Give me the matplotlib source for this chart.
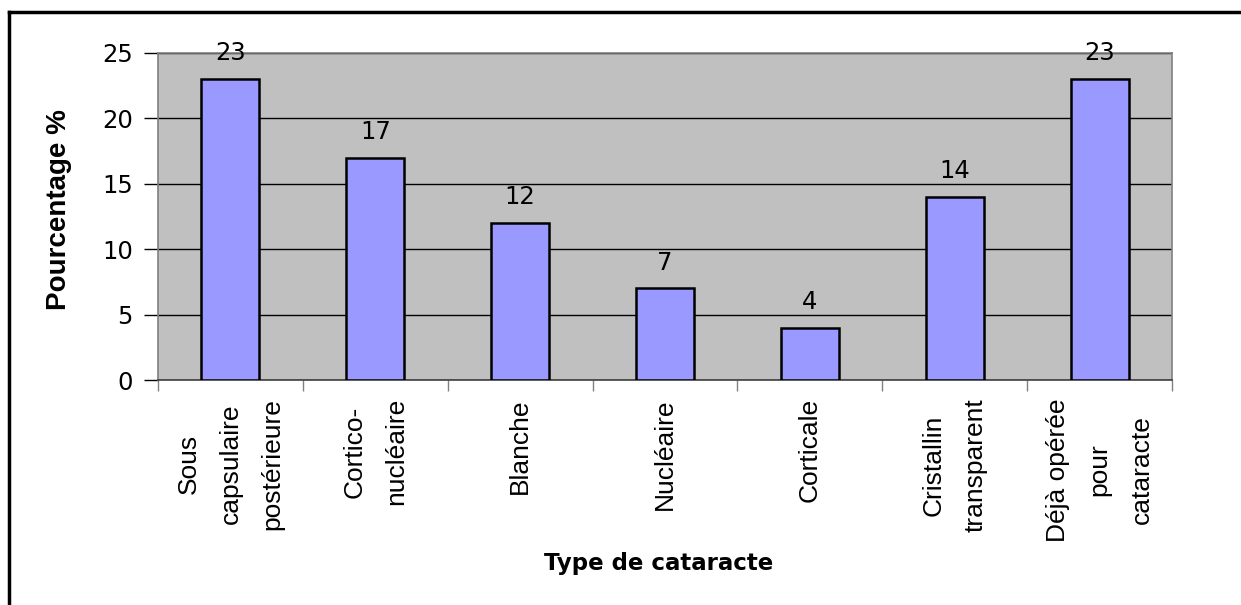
import matplotlib
matplotlib.use("Agg")
import matplotlib.pyplot as plt
from matplotlib.lines import Line2D
import numpy as np

categories = ["Sous\ncapsulaire\npostérieure", "Cortico-\nnucléaire", "Blanche",
              "Nucléaire", "Corticale", "Cristallin\ntransparent",
              "Déjà opérée\npour\ncataracte"]
values = [23, 17, 12, 7, 4, 14, 23]
yticks = [0, 5, 10, 15, 20, 25]
xlabel = "Type de cataracte"
ylabel = "Pourcentage %"

fig = plt.figure(figsize=(12.41, 6.05), dpi=100)
ax = fig.add_axes([0.1273, 0.3719, 0.9444 - 0.1273, 0.9124 - 0.3719])
ax.set_facecolor("#C0C0C0")

x = np.arange(len(categories))
ax.set_axisbelow(True)
ax.yaxis.grid(True, color="black", linewidth=1.0)
bars = ax.bar(x, values, width=0.4, color="#9999FF", edgecolor="black", linewidth=1.8, zorder=3)

ax.set_xlim(-0.5, len(categories) - 0.5)
ax.set_ylim(0, 25)
ax.set_yticks(yticks)
ax.set_yticklabels([str(v) for v in yticks], fontfamily="DejaVu Sans", fontsize=17.5)
ax.tick_params(axis="y", length=10, width=1, color="black", pad=8)

ax.set_xticks(x)
ax.set_xticklabels(categories, rotation=90, fontfamily="Liberation Sans", fontsize=19,
                   linespacing=1.95, ha="center", va="top", multialignment="center")
ax.tick_params(axis="x", which="major", length=0, pad=13)
ax.set_xticks(np.arange(-0.5, len(categories)), minor=True)
ax.tick_params(axis="x", which="minor", length=8, width=1, color="#808080")

for s in ["top", "right", "left"]:
    ax.spines[s].set_color("#808080")
    ax.spines[s].set_linewidth(1.2)
ax.spines["bottom"].set_color("#404040")
ax.spines["bottom"].set_linewidth(1.2)

ax.bar_label(bars, labels=[str(v) for v in values], padding=10,
             fontfamily="DejaVu Sans", fontsize=17.5, color="black")

ax.set_ylabel(ylabel, fontfamily="Liberation Sans", fontweight="bold", fontsize=20)
ax.yaxis.set_label_coords(-0.0848, 0.52)
fig.text(0.531, 0.0694, xlabel, fontfamily="DejaVu Sans", fontweight="bold", fontsize=16.5,
         ha="center", va="center")

# outer frame (only left and top edges visible)
fig.add_artist(Line2D([9 / 1241, 9 / 1241], [0, 1 - 12 / 605], transform=fig.transFigure,
                      color="black", linewidth=2.5))
fig.add_artist(Line2D([9 / 1241, 1], [1 - 12 / 605, 1 - 12 / 605], transform=fig.transFigure,
                      color="black", linewidth=2.5))

fig.savefig("out.png", dpi=100)
